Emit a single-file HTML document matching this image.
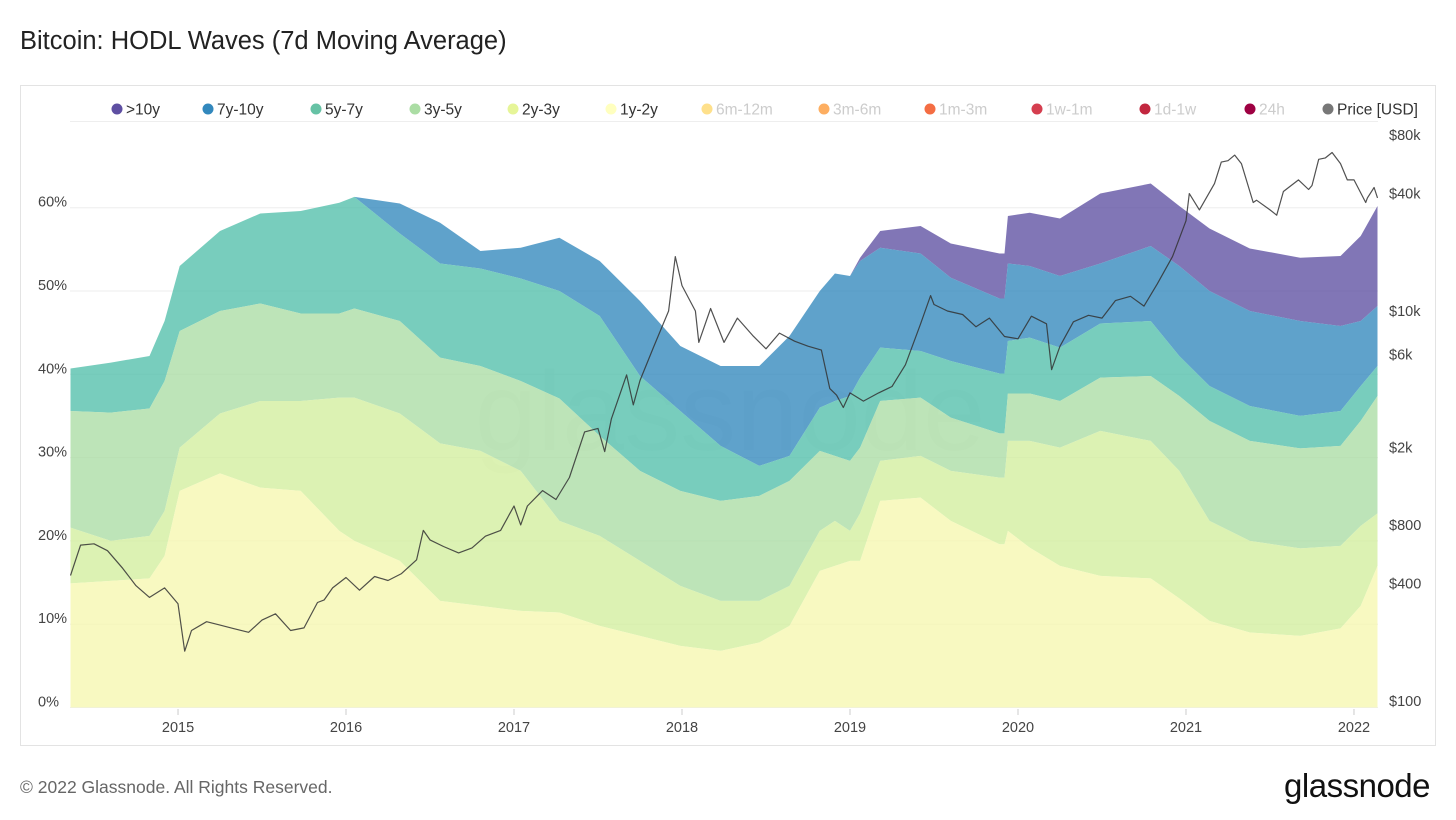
<!DOCTYPE html>
<html><head><meta charset="utf-8"><style>
body{margin:0;background:#fff;font-family:"Liberation Sans",sans-serif;}
svg text{font-family:"Liberation Sans",sans-serif;}
</style></head><body>
<svg id="c" width="1456" height="815" viewBox="0 0 1456 815" xmlns="http://www.w3.org/2000/svg">
<rect width="1456" height="815" fill="#fff"/>
<text x="20" y="49" font-size="25.5" fill="#222">Bitcoin: HODL Waves (7d Moving Average)</text>
<rect x="20.5" y="85.5" width="1415" height="660" fill="none" stroke="#e3e3e3"/>
<text x="730" y="450" font-size="112" fill="#000" fill-opacity="0.035" text-anchor="middle">glassnode</text>
<g id="grid"></g><g id="bands"></g><g id="price"></g><g id="axes"></g><g id="legend"></g>
<text x="20" y="793" font-size="17.5" fill="#666">© 2022 Glassnode. All Rights Reserved.</text>
<text x="1430" y="797" font-size="33" fill="#111" text-anchor="end" letter-spacing="-0.5">glassnode</text>
</svg>
<script>
const dates=[2014.36,2014.60,2014.83,2014.92,2015.01,2015.25,2015.49,2015.73,2015.96,2016.05,2016.32,2016.56,2016.80,2017.04,2017.27,2017.51,2017.75,2017.99,2018.23,2018.46,2018.64,2018.82,2018.91,2019.00,2019.06,2019.18,2019.42,2019.60,2019.89,2019.92,2019.94,2020.07,2020.25,2020.49,2020.79,2020.96,2021.14,2021.38,2021.68,2021.92,2022.04,2022.14];
const top1y2y=[14.9,15.2,15.5,18.2,26.0,28.1,26.4,26.0,21.2,20.0,17.6,12.8,12.2,11.6,11.4,9.8,8.6,7.4,6.8,7.8,9.8,16.4,17.0,17.6,17.6,24.8,25.2,22.4,19.6,19.6,21.2,19.2,17.0,15.8,15.5,13.1,10.4,9.0,8.6,9.5,12.2,17.0];
const top2y3y=[21.6,20.0,20.6,23.6,31.2,35.3,36.8,36.8,37.2,37.2,35.3,31.7,30.8,28.4,22.4,20.6,17.6,14.6,12.8,12.8,14.6,21.2,22.4,21.2,23.3,29.6,30.2,28.4,27.6,27.6,32.0,32.0,31.2,33.2,32.0,28.4,22.4,20.0,19.1,19.4,21.8,23.3];
const top3y5y=[35.6,35.4,35.9,39.2,45.2,47.6,48.5,47.3,47.3,47.9,46.4,42.0,41.0,39.2,37.1,32.6,28.4,26.0,24.8,25.4,27.2,30.8,30.2,29.6,31.2,36.8,37.2,34.8,32.9,32.9,37.7,37.7,36.8,39.6,39.8,37.4,34.4,32.0,31.1,31.4,34.4,37.4];
const top5y7y=[40.7,41.4,42.2,46.4,53.0,57.2,59.3,59.6,60.6,61.3,56.9,53.3,52.7,51.5,50.0,47.0,39.8,35.6,31.4,29.0,30.2,36.0,36.8,37.4,39.6,43.2,42.8,41.6,40.1,40.1,44.0,44.4,43.2,46.1,46.4,42.2,38.6,36.2,35.0,35.6,38.6,41.0];
const top7y10y=[40.7,41.4,42.2,46.4,53.0,57.2,59.3,59.6,60.6,61.3,60.5,58.2,54.8,55.2,56.4,53.6,48.8,43.4,41.0,41.0,44.6,50.0,52.1,51.8,53.6,55.2,54.5,51.6,49.1,49.1,53.3,53.0,51.8,53.3,55.4,53.0,50.0,47.6,46.4,45.8,46.4,48.2];
const top10yPlus=[40.7,41.4,42.2,46.4,53.0,57.2,59.3,59.6,60.6,61.3,60.5,58.2,54.8,55.2,56.4,53.6,48.8,43.4,41.0,41.0,44.6,50.0,52.1,51.8,54.0,57.2,57.8,55.7,54.5,54.5,59.0,59.4,58.7,61.7,62.9,60.2,57.5,55.1,54.0,54.2,56.6,60.2];
const priceDates=[2014.36,2014.42,2014.5,2014.58,2014.67,2014.75,2014.83,2014.92,2015.0,2015.04,2015.08,2015.17,2015.25,2015.33,2015.42,2015.5,2015.58,2015.67,2015.75,2015.83,2015.87,2015.92,2016.0,2016.08,2016.17,2016.25,2016.33,2016.42,2016.46,2016.5,2016.58,2016.67,2016.75,2016.83,2016.92,2017.0,2017.04,2017.08,2017.17,2017.25,2017.33,2017.42,2017.5,2017.54,2017.58,2017.67,2017.71,2017.75,2017.83,2017.92,2017.96,2018.0,2018.08,2018.1,2018.17,2018.25,2018.33,2018.42,2018.5,2018.58,2018.67,2018.75,2018.83,2018.88,2018.92,2018.96,2019.0,2019.08,2019.17,2019.25,2019.33,2019.42,2019.48,2019.5,2019.58,2019.67,2019.75,2019.83,2019.92,2020.0,2020.08,2020.17,2020.2,2020.25,2020.33,2020.42,2020.5,2020.58,2020.67,2020.75,2020.83,2020.92,2021.0,2021.02,2021.08,2021.17,2021.21,2021.25,2021.29,2021.33,2021.4,2021.42,2021.5,2021.54,2021.58,2021.67,2021.73,2021.75,2021.79,2021.83,2021.87,2021.92,2021.96,2022.0,2022.07,2022.08,2022.12,2022.14];
const priceUSD=[440,630,640,590,480,390,340,380,315,180,230,255,245,235,225,260,280,230,237,320,330,380,430,370,435,415,450,530,750,670,620,575,610,700,750,1000,800,1000,1200,1080,1400,2400,2500,1900,2800,4700,3300,4400,6500,10000,19000,13500,10000,6900,10300,6900,9200,7500,6400,7700,7000,6600,6300,4000,3700,3200,3800,3450,3800,4100,5300,8600,12000,10800,10000,9600,8300,9200,7400,7200,9400,8600,5000,6600,8800,9500,9200,11300,11900,10600,13800,19000,29000,40000,33000,45000,58000,59000,63000,57000,36000,37000,33000,31000,41000,47000,42000,44000,60000,61000,65000,57000,47000,47000,36000,38000,43000,38000,44000];
const pctTicks=[0,10,20,30,40,50,60];
const priceTicks=[100,400,800,2000,6000,10000,40000,80000];
const priceTickLabels=["$100","$400","$800","$2k","$6k","$10k","$40k","$80k"];
const yearTicks=[2015,2016,2017,2018,2019,2020,2021,2022];
const legendLabels=[">10y","7y-10y","5y-7y","3y-5y","2y-3y","1y-2y","6m-12m","3m-6m","1m-3m","1w-1m","1d-1w","24h","Price [USD]"];
const legendColors=["#5e4fa2","#3288bd","#66c2a5","#abdda4","#e6f598","#ffffbf","#fee08b","#fdae61","#f46d43","#d53e4f","#c2273f","#9e0142","#777"];
const legendX=[117,208,316,415,513,611,707,824,930,1037,1145,1250,1328];
const legendActive=[1,1,1,1,1,1,0,0,0,0,0,0,1];

const NS="http://www.w3.org/2000/svg";
const X0=70,X1=1378,D0=2014.357,D1=2022.143;
const xs=d=>X0+(d-D0)/(D1-D0)*(X1-X0);
const yp=p=>707.5-p*8.33;
const yl=v=>701-195*(Math.log10(v)-2);
function mk(tag,attrs,parent){const e=document.createElementNS(NS,tag);for(const k in attrs)e.setAttribute(k,attrs[k]);parent.appendChild(e);return e;}
const grid=document.getElementById('grid'),axes=document.getElementById('axes');
pctTicks.forEach(p=>{
  const l=mk('line',{x1:X0,x2:X1,y1:yp(p),y2:yp(p),stroke:'#eee'},grid);
  
  
  const t=mk('text',{x:38,y:yp(p)-1,'font-size':14.5,fill:'#444'},axes);
  t.textContent=p+'%';
  
  
});
const tl=mk('line',{x1:X0,x2:X1,y1:121.5,y2:121.5,stroke:'#eee'},grid);


priceTicks.forEach((v,i)=>{
  const t=mk('text',{x:1389,y:yl(v)+5,'font-size':14.5,fill:'#444'},axes);
  t.textContent=priceTickLabels[i];
  
  
});
yearTicks.forEach(y=>{
  const x=xs(y);
  const l=mk('line',{x1:x,x2:x,y1:709,y2:715,stroke:'#ccc'},axes);
  
  
  const t=mk('text',{x:x,y:732,'font-size':14.5,fill:'#444','text-anchor':'middle'},axes);
  t.textContent=y;
  
  
});
const bandsG=document.getElementById('bands');
const series=[[top10yPlus,top7y10y,"#5e4fa2","band-10y-plus"],[top7y10y,top5y7y,"#3288bd","band-7y-10y"],[top5y7y,top3y5y,"#52bfaa","band-5y-7y"],[top3y5y,top2y3y,"#abdda4","band-3y-5y"],[top2y3y,top1y2y,"#d2ee9e","band-2y-3y"],[top1y2y,null,"#f6f7b0","band-1y-2y"]];
series.forEach(s=>{
  const [tp,bt,col,name]=s;
  let d='M'+dates.map((dt,i)=>xs(dt).toFixed(1)+','+yp(tp[i]).toFixed(1)).join('L');
  for(let i=dates.length-1;i>=0;i--) d+='L'+xs(dates[i]).toFixed(1)+','+yp(bt?bt[i]:0).toFixed(1);
  d+='Z';
  const p=mk('path',{d:d,fill:col,'fill-opacity':0.78},bandsG);
  
  
});
const pg=document.getElementById('price');
const pl=mk('path',{d:'M'+priceDates.map((d,i)=>xs(d).toFixed(1)+','+yl(priceUSD[i]).toFixed(1)).join('L'),fill:'none',stroke:'#333','stroke-width':1.2,'stroke-opacity':0.85,'stroke-linejoin':'round'},pg);


const lg=document.getElementById('legend');
legendLabels.forEach((lab,i)=>{
  const g=mk('g',{},lg);
  
  
  mk('circle',{cx:legendX[i],cy:109,r:5.5,fill:legendColors[i]},g);
  const t=mk('text',{x:legendX[i]+9,y:114.5,'font-size':15.5,fill:legendActive[i]?'#333':'#ccc'},g);
  t.textContent=lab;
});
</script>
</body></html>
